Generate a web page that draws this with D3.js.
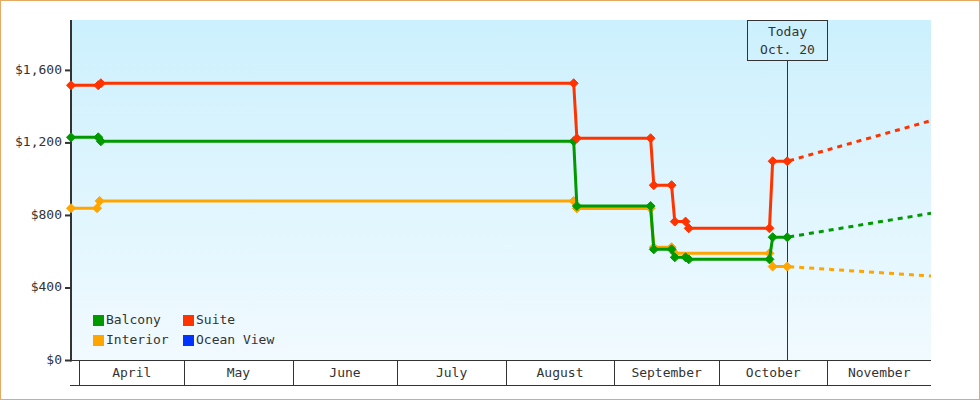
<!DOCTYPE html>
<html>
<head>
<meta charset="utf-8">
<script src="https://cdn.jsdelivr.net/npm/d3@7"></script>
<style>
  html, body { margin: 0; padding: 0; background: #fff; }
  svg { display: block; }
  text { font-family: "DejaVu Sans Mono", monospace; font-size: 13px; fill: #333; }
</style>
</head>
<body>
<svg id="chart" width="980" height="400"></svg>
<script>
// ---------------- DATA ----------------
const domainDates = ["2013-03-29T15:00", "2013-11-30T15:00"];
const todayDate = "2013-10-20T12:00";
const todayLabel = ["Today", "Oct. 20"];
const yTicks = [0, 400, 800, 1200, 1600];
const yMax = 1878;
const monthLabels = ["April", "May", "June", "July", "August", "September", "October", "November"];

const interiorDates = ["2013-03-29T15:00", "2013-04-06T02:00", "2013-04-06T20:00", "2013-08-20T10:00", "2013-08-21T08:00",
  "2013-09-11T10:00", "2013-09-12T08:00", "2013-09-17T10:00", "2013-09-18T08:00", "2013-10-15T10:00", "2013-10-16T08:00", "2013-10-20T12:00"];
const interiorValues = [840, 840, 880, 880, 839, 839, 625, 625, 591, 591, 518, 518];

const balconyDates = ["2013-03-29T15:00", "2013-04-06T10:00", "2013-04-07T04:00", "2013-08-20T10:00", "2013-08-21T08:00",
  "2013-09-11T10:00", "2013-09-12T08:00", "2013-09-17T10:00", "2013-09-18T08:00", "2013-09-21T10:00", "2013-09-22T08:00",
  "2013-10-15T10:00", "2013-10-16T08:00", "2013-10-20T12:00"];
const balconyValues = [1231, 1231, 1209, 1209, 852, 852, 613, 613, 569, 569, 558, 558, 680, 680];

const suiteDates = ["2013-03-29T15:00", "2013-04-06T10:00", "2013-04-07T04:00", "2013-08-20T10:00", "2013-08-21T08:00",
  "2013-09-11T10:00", "2013-09-12T08:00", "2013-09-17T10:00", "2013-09-18T08:00", "2013-09-21T10:00", "2013-09-22T08:00",
  "2013-10-15T10:00", "2013-10-16T08:00", "2013-10-20T12:00"];
const suiteValues = [1518, 1518, 1529, 1529, 1226, 1226, 967, 967, 766, 766, 729, 729, 1099, 1099];

const oceanViewDates = [];
const oceanViewValues = [];

const projectionDates = ["2013-10-20T12:00", "2013-11-30T15:00"];
const interiorProjection = [518, 466];
const balconyProjection = [680, 812];
const suiteProjection = [1099, 1323];

const legendNames = ["Balcony", "Suite", "Interior", "Ocean View"];

// ---------------- STYLE ----------------
const colors = { "Balcony": "#009900", "Suite": "#ff3300", "Interior": "#ffa500", "Ocean View": "#0033ff" };

// ---------------- CHART ----------------
const parse = s => new Date(s + ":00Z");
const svg = d3.select("#chart");
const W = 980, H = 400;
const plot = { left: 71, right: 931, top: 20, bottom: 360.5 };

const x = d3.scaleUtc().domain(domainDates.map(parse)).range([plot.left, plot.right]);
const y = d3.scaleLinear().domain([0, yMax]).range([plot.bottom, plot.top]);

// outer border
svg.append("rect").attr("x", 0.5).attr("y", 0.5).attr("width", W - 1).attr("height", H - 1)
  .attr("fill", "#fff").attr("stroke", "#e6a964").attr("stroke-width", 1);

// gradient background
const defs = svg.append("defs");
const grad = defs.append("linearGradient").attr("id", "bg").attr("x1", 0).attr("y1", 0).attr("x2", 0).attr("y2", 1);
grad.append("stop").attr("offset", "0%").attr("stop-color", "#ccf0fd");
grad.append("stop").attr("offset", "100%").attr("stop-color", "#f1faff");
defs.append("clipPath").attr("id", "clip").append("rect")
  .attr("x", plot.left).attr("y", plot.top).attr("width", plot.right - plot.left).attr("height", plot.bottom - plot.top);

svg.append("rect").attr("x", plot.left).attr("y", plot.top)
  .attr("width", plot.right - plot.left).attr("height", plot.bottom - plot.top)
  .attr("fill", "url(#bg)");

// month band
const monthStarts = d3.utcMonth.range(d3.utcMonth.ceil(x.domain()[0]), x.domain()[1]);
const band = svg.append("g");
band.append("line").attr("x1", plot.left - 1).attr("x2", plot.right).attr("y1", 360.5).attr("y2", 360.5)
  .attr("stroke", "#333").attr("stroke-width", 1);
band.append("line").attr("x1", plot.left - 1).attr("x2", plot.right).attr("y1", 385.5).attr("y2", 385.5)
  .attr("stroke", "#333").attr("stroke-width", 1);
band.selectAll("line.div").data(monthStarts).join("line").attr("class", "div")
  .attr("x1", d => Math.round(x(d)) + 0.5).attr("x2", d => Math.round(x(d)) + 0.5)
  .attr("y1", 360.5).attr("y2", 385.5).attr("stroke", "#333");
band.selectAll("text").data(monthStarts).join("text")
  .attr("x", (d, i) => {
    const next = i + 1 < monthStarts.length ? x(monthStarts[i + 1]) : plot.right;
    return (x(d) + Math.min(next, plot.right)) / 2;
  })
  .attr("y", 373).attr("text-anchor", "middle").attr("dominant-baseline", "middle")
  .text((d, i) => monthLabels[i]);

// y axis
const yAxis = svg.append("g");
yAxis.append("line").attr("x1", 71).attr("x2", 71).attr("y1", plot.top).attr("y2", 361.5)
  .attr("stroke", "#333").attr("stroke-width", 2);
yAxis.selectAll("line.tick").data(yTicks).join("line").attr("class", "tick")
  .attr("x1", 65).attr("x2", 71).attr("y1", d => y(d)).attr("y2", d => y(d))
  .attr("stroke", "#333").attr("stroke-width", 2);
yAxis.selectAll("text").data(yTicks).join("text")
  .attr("x", 62).attr("y", d => y(d)).attr("text-anchor", "end").attr("dominant-baseline", "middle")
  .text(d => "$" + d3.format(",")(d));

// today marker
const tx = Math.round(x(parse(todayDate))) + 0.5;
svg.append("line").attr("x1", tx).attr("x2", tx).attr("y1", 60.5).attr("y2", 360.5).attr("stroke", "#333").attr("stroke-width", 1);
svg.append("rect").attr("x", tx - 40).attr("y", 20.5).attr("width", 80).attr("height", 40)
  .attr("fill", "none").attr("stroke", "#333").attr("stroke-width", 1);
svg.append("text").attr("x", tx).attr("y", 32.5).attr("text-anchor", "middle").attr("dominant-baseline", "middle").text(todayLabel[0]);
svg.append("text").attr("x", tx).attr("y", 50).attr("text-anchor", "middle").attr("dominant-baseline", "middle").text(todayLabel[1]);

// series
const series = [
  { name: "Interior", dates: interiorDates, values: interiorValues, proj: interiorProjection },
  { name: "Balcony", dates: balconyDates, values: balconyValues, proj: balconyProjection },
  { name: "Suite", dates: suiteDates, values: suiteValues, proj: suiteProjection },
  { name: "Ocean View", dates: oceanViewDates, values: oceanViewValues, proj: [] }
];
const line = d3.line().x(d => x(d[0])).y(d => y(d[1]));
const gProj = svg.append("g").attr("clip-path", "url(#clip)");
const g = svg.append("g");
const diamond = "M0,-4.5L4.5,0L0,4.5L-4.5,0Z";

series.forEach(s => {
  if (s.proj.length) {
    const pts = projectionDates.map((d, i) => [parse(d), s.proj[i]]);
    gProj.append("path").attr("d", line(pts)).attr("fill", "none")
      .attr("stroke", colors[s.name]).attr("stroke-width", 3)
      .attr("stroke-dasharray", "5,5").attr("stroke-dashoffset", -2);
  }
});
series.forEach(s => {
  if (!s.dates.length) return;
  const pts = s.dates.map((d, i) => [parse(d), s.values[i]]);
  g.append("path").attr("d", line(pts)).attr("fill", "none")
    .attr("stroke", colors[s.name]).attr("stroke-width", 3).attr("stroke-linejoin", "round");
  g.selectAll(null).data(pts).join("path")
    .attr("d", diamond)
    .attr("transform", d => `translate(${x(d[0])},${y(d[1])})`)
    .attr("fill", colors[s.name]).attr("stroke", colors[s.name]).attr("stroke-width", 1).attr("stroke-linejoin", "round");
});

// legend
const legend = svg.append("g");
legendNames.forEach((n, i) => {
  const col = i % 2, row = Math.floor(i / 2);
  const lx = 93 + col * 90, ly = 315 + row * 20;
  legend.append("rect").attr("x", lx).attr("y", ly).attr("width", 11).attr("height", 11).attr("fill", colors[n]);
  legend.append("text").attr("x", lx + 13).attr("y", ly + 5.5).attr("dominant-baseline", "middle").text(n);
});
</script>
</body>
</html>
